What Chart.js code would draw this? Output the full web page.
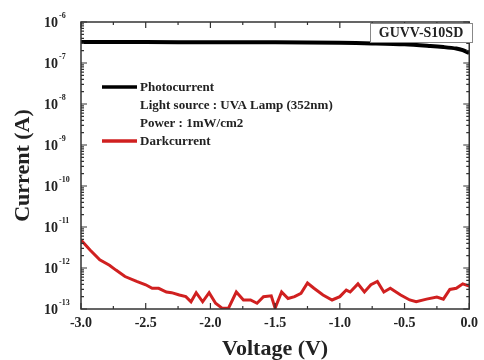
<!DOCTYPE html>
<html>
<head>
<meta charset="utf-8">
<script src="https://cdn.jsdelivr.net/npm/chart.js@4.4.1/dist/chart.umd.min.js"></script>
<style>
  html, body { margin: 0; padding: 0; background: #fff; }
  #wrap { width: 484px; height: 360px; position: relative; }
</style>
</head>
<body>
<div id="wrap"><canvas id="chart"></canvas></div>
<script>
// photocurrent under UVA lamp
const photoVoltage = [-3.0, -2.5, -2.0, -1.5, -1.0, -0.75, -0.5, -0.3, -0.2, -0.1, -0.05, 0.0];
const photoCurrent = [3.25e-7, 3.25e-7, 3.2e-7, 3.2e-7, 3.1e-7, 3.0e-7, 2.85e-7, 2.6e-7, 2.45e-7, 2.25e-7, 2.05e-7, 1.75e-7];

// dark current
const darkVoltage = [
  -3.0, -2.93, -2.855, -2.78, -2.73, -2.66, -2.57, -2.50, -2.45, -2.40,
  -2.34, -2.30, -2.24, -2.19, -2.15, -2.11, -2.06, -2.01, -1.96, -1.91,
  -1.86, -1.80, -1.745, -1.69, -1.64, -1.59, -1.53, -1.50, -1.45, -1.40,
  -1.35, -1.30, -1.25, -1.20, -1.13, -1.06, -1.00, -0.95, -0.92, -0.86,
  -0.81, -0.76, -0.71, -0.66, -0.61, -0.53, -0.46, -0.41, -0.33, -0.25,
  -0.20, -0.15, -0.10, -0.05, 0.0
];
const darkCurrent = [
  4.8e-12, 2.75e-12, 1.58e-12, 1.17e-12, 8.9e-13, 6.2e-13, 4.7e-13, 3.9e-13, 3.2e-13, 3.2e-13,
  2.6e-13, 2.5e-13, 2.2e-13, 2.0e-13, 1.5e-13, 2.5e-13, 1.5e-13, 2.5e-13, 1.38e-13, 1.05e-13,
  1.05e-13, 2.6e-13, 1.66e-13, 1.66e-13, 1.38e-13, 2.0e-13, 2.1e-13, 1.05e-13, 2.6e-13, 1.8e-13,
  2.0e-13, 2.4e-13, 4.3e-13, 3.2e-13, 2.2e-13, 1.66e-13, 2.0e-13, 2.9e-13, 2.6e-13, 4.1e-13,
  2.6e-13, 3.9e-13, 4.7e-13, 2.6e-13, 3.2e-13, 2.2e-13, 1.66e-13, 1.5e-13, 1.74e-13, 1.95e-13,
  1.74e-13, 3.0e-13, 3.2e-13, 4.1e-13, 3.6e-13
];

const decades = [-13, -12, -11, -10, -9, -8, -7, -6];
const legendLines = [
  { text: 'Photocurrent', color: '#000' },
  { text: 'Light source : UVA Lamp (352nm)', color: null },
  { text: 'Power : 1mW/cm2', color: null },
  { text: 'Darkcurrent', color: '#d02020' }
];
const sampleName = 'GUVV-S10SD';

const SERIF = '"Liberation Serif", "DejaVu Serif", serif';

function toPoints(xs, ys) {
  return xs.map((x, i) => ({ x: x, y: ys[i] }));
}

// frame, inward ticks on all sides, y labels with superscript, legend, sample box
const decoPlugin = {
  id: 'deco',
  afterDatasetsDraw(chart) {
    const ctx = chart.ctx;
    const a = chart.chartArea;
    const xs = chart.scales.x;
    const ys = chart.scales.y;
    ctx.save();

    ctx.strokeStyle = '#333';
    ctx.lineWidth = 1.5;
    ctx.strokeRect(a.left, a.top, a.right - a.left, a.bottom - a.top);

    // x ticks
    ctx.lineWidth = 1.2;
    for (let v = -3; v <= 0.001; v += 0.25) {
      const px = xs.getPixelForValue(v);
      const major = Math.abs(v * 2 - Math.round(v * 2)) < 1e-6;
      const len = major ? 6 : 3;
      ctx.beginPath();
      ctx.moveTo(px, a.bottom); ctx.lineTo(px, a.bottom - len);
      ctx.moveTo(px, a.top); ctx.lineTo(px, a.top + len);
      ctx.stroke();
    }
    // y ticks
    decades.forEach(e => {
      for (let m = 1; m <= 9; m++) {
        if (e === -6 && m > 1) break;
        const py = ys.getPixelForValue(m * Math.pow(10, e));
        const len = m === 1 ? 6 : 3;
        ctx.beginPath();
        ctx.moveTo(a.left, py); ctx.lineTo(a.left + len, py);
        ctx.moveTo(a.right, py); ctx.lineTo(a.right - len, py);
        ctx.stroke();
      }
    });

    // y tick labels 10^e
    ctx.fillStyle = '#222';
    decades.forEach(e => {
      const py = ys.getPixelForValue(Math.pow(10, e));
      ctx.font = 'bold 14px ' + SERIF;
      ctx.textAlign = 'right';
      ctx.textBaseline = 'middle';
      ctx.fillText('10', 58, py + 1);
      ctx.font = 'bold 8px ' + SERIF;
      ctx.textAlign = 'left';
      ctx.fillText(String(e), 59, py - 6);
    });

    // legend
    const lx0 = 102, lx1 = 137;
    const rows = [87, 105, 123, 141];
    ctx.font = 'bold 13px ' + SERIF;
    ctx.textAlign = 'left';
    ctx.textBaseline = 'middle';
    legendLines.forEach((item, i) => {
      if (item.color) {
        ctx.strokeStyle = item.color;
        ctx.lineWidth = 3.5;
        ctx.beginPath();
        ctx.moveTo(lx0, rows[i]); ctx.lineTo(lx1, rows[i]);
        ctx.stroke();
      }
      ctx.fillStyle = '#222';
      ctx.fillText(item.text, 140, rows[i] + 1);
    });

    // sample name box
    ctx.strokeStyle = '#888';
    ctx.lineWidth = 1;
    ctx.fillStyle = '#fff';
    ctx.fillRect(370, 23, 102, 19);
    ctx.strokeRect(370.5, 23.5, 102, 19);
    ctx.fillStyle = '#222';
    ctx.font = 'bold 14px ' + SERIF;
    ctx.textAlign = 'center';
    ctx.fillText(sampleName, 421, 33);

    ctx.restore();
  }
};

new Chart(document.getElementById('chart'), {
  type: 'line',
  data: {
    datasets: [
      {
        label: 'Photocurrent',
        data: toPoints(photoVoltage, photoCurrent),
        borderColor: '#000',
        borderWidth: 4,
        pointRadius: 0,
        tension: 0.3
      },
      {
        label: 'Darkcurrent',
        data: toPoints(darkVoltage, darkCurrent),
        borderColor: '#d02020',
        borderWidth: 3,
        pointRadius: 0,
        tension: 0
      }
    ]
  },
  options: {
    responsive: true,
    maintainAspectRatio: false,
    animation: false,
    layout: { padding: { left: 0, right: 11, top: 22, bottom: 0 } },
    plugins: {
      legend: { display: false },
      tooltip: { enabled: false }
    },
    scales: {
      x: {
        type: 'linear',
        min: -3,
        max: 0,
        grid: { display: false, drawTicks: false },
        border: { display: false },
        ticks: {
          stepSize: 0.5,
          padding: 6,
          color: '#222',
          font: { family: SERIF, size: 14, weight: 'bold' },
          callback: v => v.toFixed(1)
        },
        title: {
          display: true,
          text: 'Voltage (V)',
          color: '#222',
          font: { family: SERIF, size: 22, weight: 'bold' },
          padding: { top: 0, bottom: -3 }
        },
        afterFit: scale => { scale.height = 51; }
      },
      y: {
        type: 'logarithmic',
        min: 1e-13,
        max: 1e-6,
        grid: { display: false, drawTicks: false },
        border: { display: false },
        ticks: { display: false },
        title: {
          display: true,
          text: 'Current (A)',
          color: '#222',
          font: { family: SERIF, size: 22, weight: 'bold' },
          padding: { top: 10, bottom: 0 }
        },
        afterFit: scale => { scale.width = 81; }
      }
    }
  },
  plugins: [decoPlugin]
});
</script>
</body>
</html>
